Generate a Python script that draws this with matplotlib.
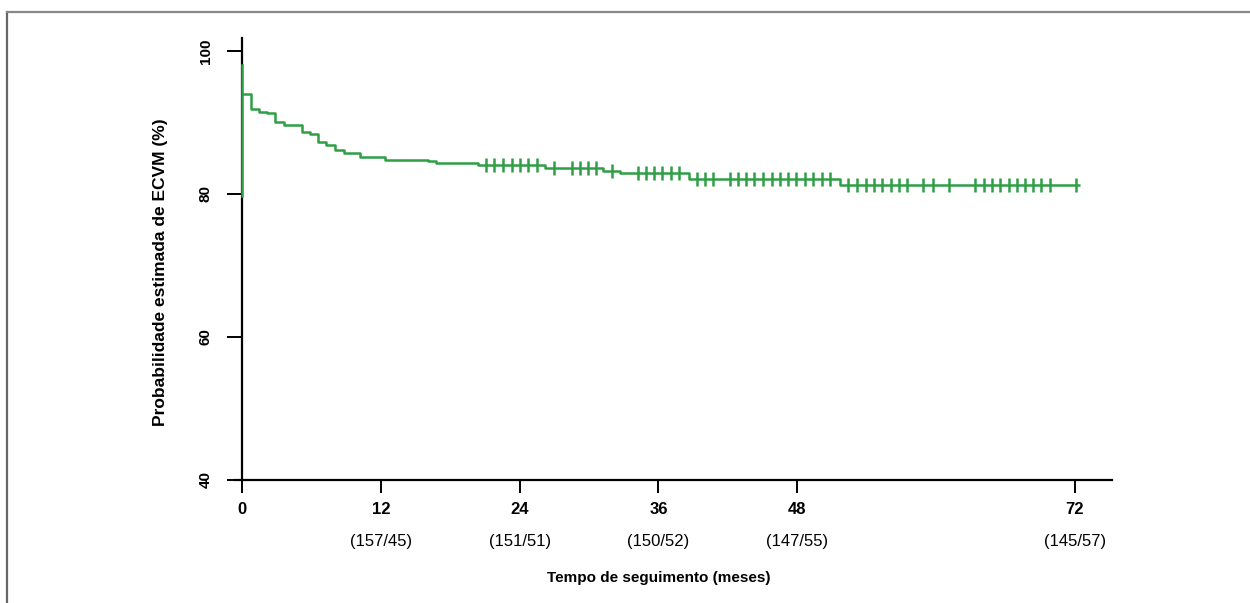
import numpy as np
import matplotlib
matplotlib.use("Agg")
import matplotlib.pyplot as plt
from matplotlib.lines import Line2D

# ---------------- data ----------------
step_times = [0, 0.75, 1.5, 2.2, 2.9, 3.6, 5.2, 5.9, 6.6, 7.3, 8.0, 8.8, 10.2,
              12.4, 16.1, 16.8, 20.4, 26.2, 31.2, 32.7, 38.6, 51.7]
step_values = [94.0, 91.85, 91.5, 91.26, 90.0, 89.7, 88.7, 88.4, 87.2, 86.9, 86.1,
               85.7, 85.2, 84.8, 84.6, 84.3, 84.0, 83.6, 83.2, 82.9, 82.1, 81.2]
end_time = 72.4
start_segment_y = [79.7, 98.0]   # vertical trace drawn at time 0

censor_times = [21.1, 21.8, 22.6, 23.3, 24.0, 24.7, 25.5, 27.0, 28.5, 29.2, 29.9, 30.6,
                32.0, 34.2, 34.9, 35.6, 36.3, 37.1, 37.8, 39.3, 40.0, 40.7, 42.2, 42.9,
                43.6, 44.3, 45.0, 45.8, 46.5, 47.2, 47.9, 48.7, 49.4, 50.1, 50.8, 52.4,
                53.2, 53.9, 54.6, 55.3, 56.1, 56.8, 57.5, 58.9, 59.7, 61.1, 63.4, 64.1,
                64.8, 65.5, 66.3, 67.0, 67.7, 68.4, 69.1, 69.8, 72.1]

x_ticks = [0, 12, 24, 36, 48, 72]
y_ticks = [40, 60, 80, 100]
at_risk_times = [12, 24, 36, 48, 72]
at_risk_labels = ["(157/45)", "(151/51)", "(150/52)", "(147/55)", "(145/57)"]

x_label = "Tempo de seguimento (meses)"
y_label = "Probabilidade estimada de ECVM (%)"

# ---------------- style ----------------
GREEN = "#2f9e46"
plt.rcParams["font.family"] = ["Liberation Sans", "DejaVu Sans"]

fig = plt.figure(figsize=(12.5, 6.03), dpi=100)
ax = fig.add_axes([0.188, 0.204, 0.7016, 0.733])

# KM step curve
xs = list(step_times) + [end_time]
ys = list(step_values) + [step_values[-1]]
ax.step(xs, ys, where="post", color=GREEN, lw=1.8, solid_capstyle="butt", zorder=3)
ax.plot([0, 0], start_segment_y, color=GREEN, lw=1.8, zorder=3)

# censor marks
st = np.array(step_times)
sv = np.array(step_values)
ct = np.array(censor_times)
idx = np.searchsorted(st, ct, side="right") - 1
ax.plot(ct, sv[idx], linestyle="none", marker="|", markersize=10, markeredgewidth=1.8,
        color=GREEN, zorder=4)

ax.set_xlim(-0.6, 75.2)
ax.set_ylim(40, 101.8)

for s in ["top", "right"]:
    ax.spines[s].set_visible(False)
ax.spines["left"].set_position(("data", 0))
ax.spines["left"].set_linewidth(1.6)
ax.spines["bottom"].set_linewidth(1.6)

ax.set_xticks(x_ticks)
ax.set_xticklabels([str(t) for t in x_ticks], fontsize=12, fontweight="bold")
ax.set_yticks(y_ticks)
ax.set_yticklabels([str(t) for t in y_ticks], fontsize=11, fontweight="bold",
                   rotation=90, va="center")
ax.tick_params(axis="x", direction="out", length=9, width=1.4, pad=7)
ax.tick_params(axis="y", direction="out", length=11, width=1.4, pad=10)

# at-risk numbers
for t, lab in zip(at_risk_times, at_risk_labels):
    ax.annotate(lab, xy=(t, 0), xycoords=("data", "axes fraction"),
                xytext=(0, -62), textcoords="offset pixels",
                ha="center", va="center", fontsize=12)

ax.annotate(x_label, xy=(36, 0), xycoords=("data", "axes fraction"),
            xytext=(0, -98), textcoords="offset pixels",
            ha="center", va="center", fontsize=11, fontweight="bold")

fig.text(160 / 1250, 1 - 272 / 603, y_label, rotation=90, ha="center", va="center",
         fontsize=12.5, fontweight="bold")

# outer frame (top and left edges)
fig.add_artist(Line2D([7 / 1250, 7 / 1250], [0, 1 - 12 / 603], transform=fig.transFigure,
                      color="#666666", lw=1.6))
fig.add_artist(Line2D([7 / 1250, 1], [1 - 12 / 603, 1 - 12 / 603], transform=fig.transFigure,
                      color="#888888", lw=1.6))

fig.savefig("out.png", dpi=100)
